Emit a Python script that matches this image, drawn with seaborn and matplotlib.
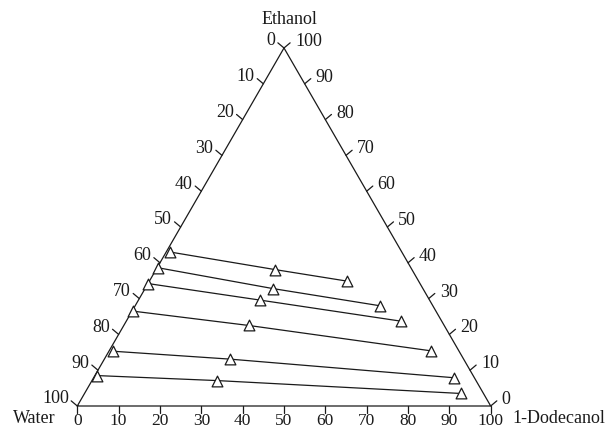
import numpy as np
import pandas as pd
import matplotlib
matplotlib.use("Agg")
import matplotlib.pyplot as plt
import seaborn as sns

# === Данные (мас. %) ===
# водная фаза
aq_ethanol = [43.0, 38.6, 34.2, 26.5, 15.3, 8.5]
aq_dodecanol = [1.0, 0.3, 0.0, 0.2, 1.0, 0.5]
# исходная смесь (середина ноды)
feed_ethanol = [38.1, 32.8, 29.6, 22.5, 13.1, 7.1]
feed_dodecanol = [28.8, 30.9, 29.3, 30.2, 30.3, 30.3]
# органическая фаза
org_ethanol = [34.9, 28.0, 23.7, 15.4, 7.9, 3.5]
org_dodecanol = [47.7, 59.2, 66.4, 77.9, 87.1, 91.0]

tick_values = [0, 10, 20, 30, 40, 50, 60, 70, 80, 90, 100]
corner_labels = ["Water", "1-Dodecanol", "Ethanol"]

S3 = np.sqrt(3) / 2


def to_xy(dodecanol, ethanol):
    d = np.asarray(dodecanol, dtype=float)
    e = np.asarray(ethanol, dtype=float)
    return d + e / 2, e * S3


# таблица для seaborn
rows = []
for i in range(len(aq_ethanol)):
    for phase, d, e in [("aq", aq_dodecanol[i], aq_ethanol[i]),
                        ("feed", feed_dodecanol[i], feed_ethanol[i]),
                        ("org", org_dodecanol[i], org_ethanol[i])]:
        x, y = to_xy(d, e)
        rows.append({"tie": i, "phase": phase, "x": float(x), "y": float(y)})
df = pd.DataFrame(rows)

sns.set_style("white")
plt.rcParams['font.family'] = ['Liberation Serif', 'DejaVu Serif']
ink = '#1a1a1a'
fs = 13

fig = plt.figure(figsize=(6.07, 4.30), dpi=100)
ax = fig.add_axes([0, 0, 1, 1])
px = 4.134  # пикселей на единицу
ax.set_xlim(-77.3 / px, (607 - 77.3) / px)
ax.set_ylim((406 - 430) / px, 406 / px)
ax.set_aspect('equal')
ax.axis('off')

# треугольник
tri_x, tri_y = to_xy([0, 100, 0, 0], [0, 0, 100, 0])
ax.plot(tri_x, tri_y, color=ink, lw=0.9, zorder=2)

# засечки и подписи
tl_side = 8 / px
tl_bot = 7 / px
a_left = np.deg2rad(140)
a_right = np.deg2rad(40)
for v in tick_values:
    # нижняя ось: 1-Dodecanol
    bx, by = to_xy(v, 0)
    ax.plot([bx, bx], [by, by - tl_bot], color=ink, lw=0.9)
    ax.text(bx, by - 23.5 / px, str(v), ha='center', va='bottom', fontsize=12.5, color=ink)
    # левая ось: Water (0 вверху)
    lx, ly = to_xy(0, 100 - v)
    ax.plot([lx, lx + tl_side * np.cos(a_left)], [ly, ly + tl_side * np.sin(a_left)],
            color=ink, lw=0.9)
    ax.text(lx - 8.5 / px, ly + 7 / px, str(v), ha='right', va='center',
            fontsize=fs, color=ink)
    # правая ось: Ethanol (100 вверху)
    rx, ry = to_xy(100 - v, v)
    ax.plot([rx, rx + tl_side * np.cos(a_right)], [ry, ry + tl_side * np.sin(a_right)],
            color=ink, lw=0.9)
    ax.text(rx + 11 / px, ry + 6.5 / px, str(v), ha='left', va='center',
            fontsize=fs, color=ink)

# ноды
sns.lineplot(data=df, x='x', y='y', units='tie', estimator=None, sort=False,
             color=ink, lw=0.9, ax=ax, legend=False, zorder=3)
sns.scatterplot(data=df, x='x', y='y', marker='^', s=60, facecolor='white',
                edgecolor=ink, linewidth=0.9, ax=ax, legend=False, zorder=4)
ax.set_xlabel('')
ax.set_ylabel('')

# подписи вершин
ax.text(-15.6, -3.1, corner_labels[0], ha='left', va='center', fontsize=fs, color=ink)
ax.text(105.2, -3.1, corner_labels[1], ha='left', va='center', fontsize=fs, color=ink)
ax.text(51.3, 93.4, corner_labels[2], ha='center', va='center', fontsize=fs, color=ink)

fig.savefig('out.png', dpi=100)
